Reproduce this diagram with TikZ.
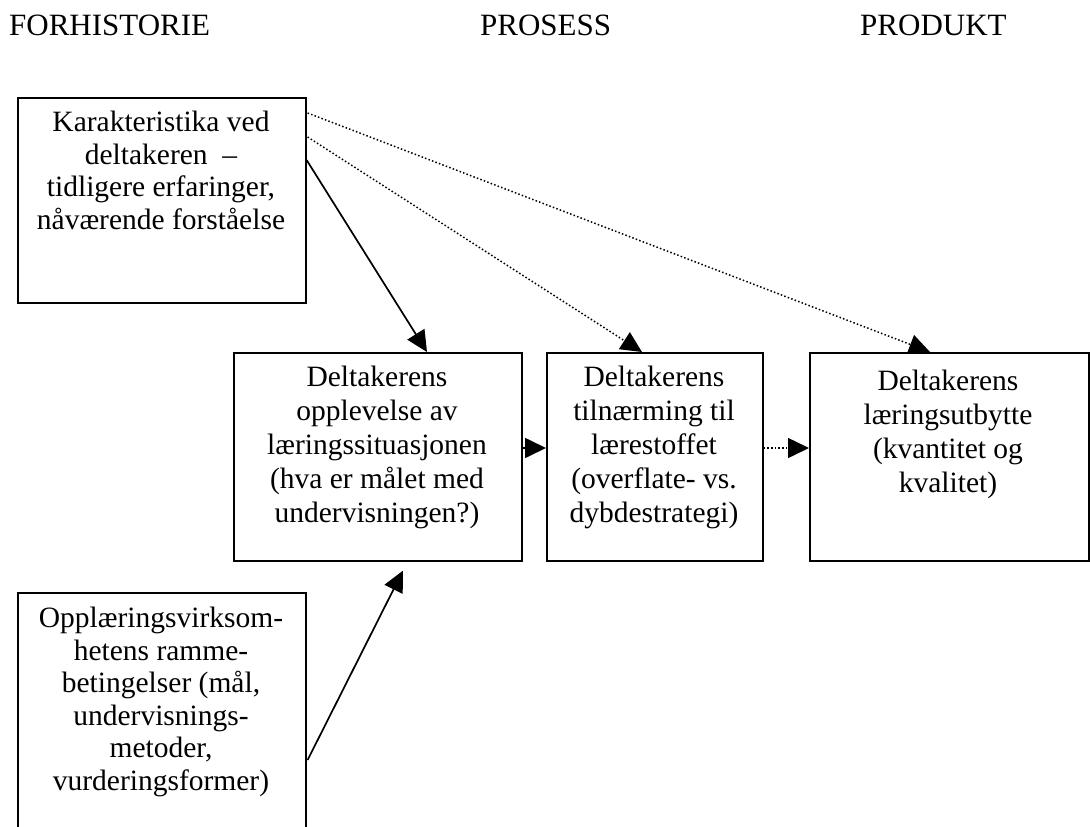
\documentclass[tikz,border=0pt]{standalone}
\usepackage{fontspec}
\setmainfont{Liberation Serif}
\usetikzlibrary{arrows.meta,calc}

\tikzset{
  box/.style={draw, line width=1.6pt, rectangle, inner sep=0pt, anchor=north west},
  % texts are placed by the baseline of their last line
  txt/.style={align=center, inner sep=0pt, anchor=base, font=\fontsize{29.5}{32.5}\selectfont},
  txtmid/.style={txt, font=\fontsize{29.5}{34}\selectfont},
  heading/.style={inner sep=0pt, anchor=base west, font=\fontsize{31}{34}\selectfont},
  solidarrow/.style={line width=1.7pt, -{Triangle[length=21pt,width=20pt]}},
  dotarrow/.style={line width=1.5pt, dash pattern=on 1.5pt off 2.2pt, -{Triangle[length=21pt,width=20pt]}}
}

\begin{document}
\begin{tikzpicture}[x=1pt, y=-1pt]
  \useasboundingbox (0,0) rectangle (1090,827);
  \clip (0,0) rectangle (1090,827);

  % column headings
  \node[heading] (h1) at (9,35) {FORHISTORIE};
  \node[heading] (h2) at (480,35) {PROSESS};
  \node[heading] (h3) at (860,35) {PRODUKT};

  % boxes
  \node[box, minimum width=288pt, minimum height=205pt] (A) at (17,97) {};
  \node[box, minimum width=288pt, minimum height=208pt] (B) at (233,352) {};
  \node[box, minimum width=216pt, minimum height=208pt] (C) at (546,352) {};
  \node[box, minimum width=279pt, minimum height=208pt] (D) at (809,352) {};
  \node[box, minimum width=288pt, minimum height=260pt] (E) at (17,592) {};

  % box texts
  \node[txt] (At) at (161,229) {Karakteristika ved\\deltakeren~ –\\tidligere erfaringer,\\nåværende forståelse};
  \node[txtmid] (Bt) at (377,522) {Deltakerens\\opplevelse av\\læringssituasjonen\\(hva er målet med\\undervisningen?)};
  \node[txtmid] (Ct) at (654,522) {Deltakerens\\tilnærming til\\lærestoffet\\(overflate- vs.\\dybdestrategi)};
  \node[txtmid] (Dt) at (948,492) {Deltakerens\\læringsutbytte\\(kvantitet og\\kvalitet)};
  \node[txt] (Et) at (161,790) {Opplæringsvirksom-\\hetens ramme-\\betingelser (mål,\\undervisnings-\\metoder,\\vurderingsformer)};

  % connector end points on the box edges
  \coordinate (a1) at ($(A.north east)+(0pt,-63pt)$);
  \coordinate (a2) at ($(A.north east)+(1pt,-40pt)$);
  \coordinate (a3) at ($(A.north east)+(1pt,-16pt)$);
  \coordinate (b1) at ($(B.north west)+(194pt,0pt)$);
  \coordinate (c1) at ($(C.north west)+(96pt,0pt)$);
  \coordinate (d1) at ($(D.north west)+(121pt,0pt)$);
  \coordinate (e1) at ($(E.north east)+(1pt,-168pt)$);
  \coordinate (b2) at ($(B.south west)+(170pt,-9pt)$);
  \coordinate (bc) at ($(B.north east)+(0pt,-96pt)$);
  \coordinate (cb) at ($(C.north west)+(0pt,-96pt)$);
  \coordinate (cd) at ($(C.north east)+(0pt,-96pt)$);
  \coordinate (dc) at ($(D.north west)+(0pt,-96pt)$);

  % connectors
  \draw[solidarrow] (a1) -- (b1);
  \draw[dotarrow] (a2) -- (c1);
  \draw[dotarrow] (a3) -- (d1);
  \draw[solidarrow] (bc) -- (cb);
  \draw[dotarrow] (cd) -- (dc);
  \draw[solidarrow] (e1) -- (b2);
\end{tikzpicture}
\end{document}
